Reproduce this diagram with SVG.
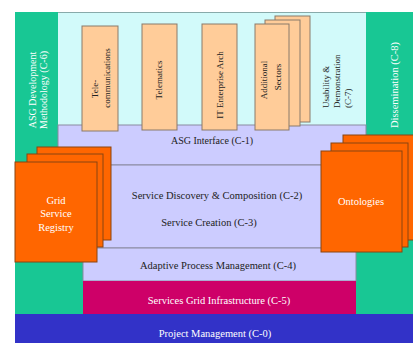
<svg xmlns="http://www.w3.org/2000/svg" width="413" height="343" viewBox="0 0 413 343">
  <style>
    text { font-family: "Liberation Serif", "Times New Roman", serif; font-size: 10.5px; }
    .dark { fill: #222; }
    .light { fill: #fff; }
    .mid { text-anchor: middle; }
    .small { font-size: 9px; }
    .side { font-size: 10px; }
    .green { fill: #18C794; }
    .sector { fill: #FFCC99; stroke: #8a7a6a; stroke-width: 1; }
    .stack { fill: #FF6600; stroke: #8a4410; stroke-width: 1; }
    .band { fill: #CCCCFF; stroke: #8a8aa0; stroke-width: 1; }
  </style>

  <!-- backdrop -->
  <rect width="413" height="343" fill="#fff"/>

  <!-- side columns -->
  <g id="methodology">
    <polygon class="green" points="15,12 58,12 58,248 83,248 83,314 15,314"/>
    <g transform="translate(36,90) rotate(-90)"><text class="light mid side">ASG Development</text></g>
    <g transform="translate(47,90) rotate(-90)"><text class="light mid side">Methodology (C-6)</text></g>
  </g>
  <g id="dissemination">
    <polygon class="green" points="366,12 413,12 413,314 356,314 356,248 366,248"/>
    <g transform="translate(398,85) rotate(-90)"><text class="light mid">Dissemination (C-8)</text></g>
  </g>

  <!-- application layer -->
  <g id="application-area">
    <rect x="58" y="12" width="308" height="113" fill="#D2FAFA"/>
    <line x1="58" y1="12.5" x2="366" y2="12.5" stroke="#8aa" stroke-width="1"/>
  </g>

  <!-- interface + discovery region -->
  <g id="asg-interface">
    <rect class="band" x="58" y="125" width="308" height="40"/>
    <text class="dark mid side" x="212" y="144">ASG Interface (C-1)</text>
  </g>
  <g id="discovery">
    <rect class="band" x="83" y="165" width="270" height="83"/>
    <text class="dark mid" x="217" y="198.5">Service Discovery &amp; Composition (C-2)</text>
    <text class="dark mid" x="209" y="225.5">Service Creation (C-3)</text>
  </g>
  <g id="adaptive">
    <rect class="band" x="83" y="248" width="273" height="33"/>
    <text class="dark mid" x="218" y="268.5">Adaptive Process Management (C-4)</text>
  </g>
  <g id="grid-infra">
    <rect x="83" y="281" width="273" height="33" fill="#CE0068"/>
    <text class="light mid" x="219" y="303.5">Services Grid Infrastructure (C-5)</text>
  </g>
  <g id="project-mgmt">
    <rect x="15" y="314" width="398" height="29" fill="#3232C8"/>
    <text class="light mid" x="215" y="336.5">Project Management (C-0)</text>
  </g>

  <!-- sector boxes -->
  <g id="telecom">
    <rect class="sector" x="82" y="26" width="36" height="105"/>
    <g transform="translate(98,89) rotate(-90)"><text class="dark mid small">Tele-</text></g>
    <g transform="translate(110,78) rotate(-90)"><text class="dark mid small">communications</text></g>
  </g>
  <g id="telematics">
    <rect class="sector" x="142" y="24" width="35" height="106"/>
    <g transform="translate(161.5,80) rotate(-90)"><text class="dark mid small">Telematics</text></g>
  </g>
  <g id="enterprise">
    <rect class="sector" x="202" y="24" width="35" height="106"/>
    <g transform="translate(222.5,85) rotate(-90)"><text class="dark mid small">IT Enterprise Arch</text></g>
  </g>
  <g id="additional">
    <rect class="sector" x="275" y="16" width="35" height="106"/>
    <rect class="sector" x="265" y="20" width="35" height="106"/>
    <rect class="sector" x="255" y="24" width="34" height="106"/>
    <g transform="translate(267,80) rotate(-90)"><text class="dark mid small">Additional</text></g>
    <g transform="translate(281,77) rotate(-90)"><text class="dark mid small">Sectors</text></g>
  </g>
  <g id="usability">
    <g transform="translate(328.5,108) rotate(-90)"><text class="dark small">Usability &amp;</text></g>
    <g transform="translate(339.5,108) rotate(-90)"><text class="dark small">Demonstration</text></g>
    <g transform="translate(350.5,108) rotate(-90)"><text class="dark small">(C-7)</text></g>
  </g>

  <!-- stacked stores -->
  <g id="registry">
    <rect class="stack" x="37" y="147" width="74" height="93"/>
    <rect class="stack" x="27" y="154" width="76" height="93"/>
    <rect class="stack" x="15" y="162" width="82" height="100"/>
    <text class="light mid" x="56" y="203.5">Grid</text>
    <text class="light mid" x="56" y="216.5">Service</text>
    <text class="light mid" x="56" y="230.5">Registry</text>
  </g>
  <g id="ontologies">
    <rect class="stack" x="343" y="135" width="74" height="105"/>
    <rect class="stack" x="331" y="143" width="77" height="104"/>
    <rect class="stack" x="321" y="151" width="81" height="101"/>
    <text class="light mid" x="361" y="205">Ontologies</text>
  </g>

  <!-- no connectors in this diagram -->
  <g id="connectors"/>
</svg>
